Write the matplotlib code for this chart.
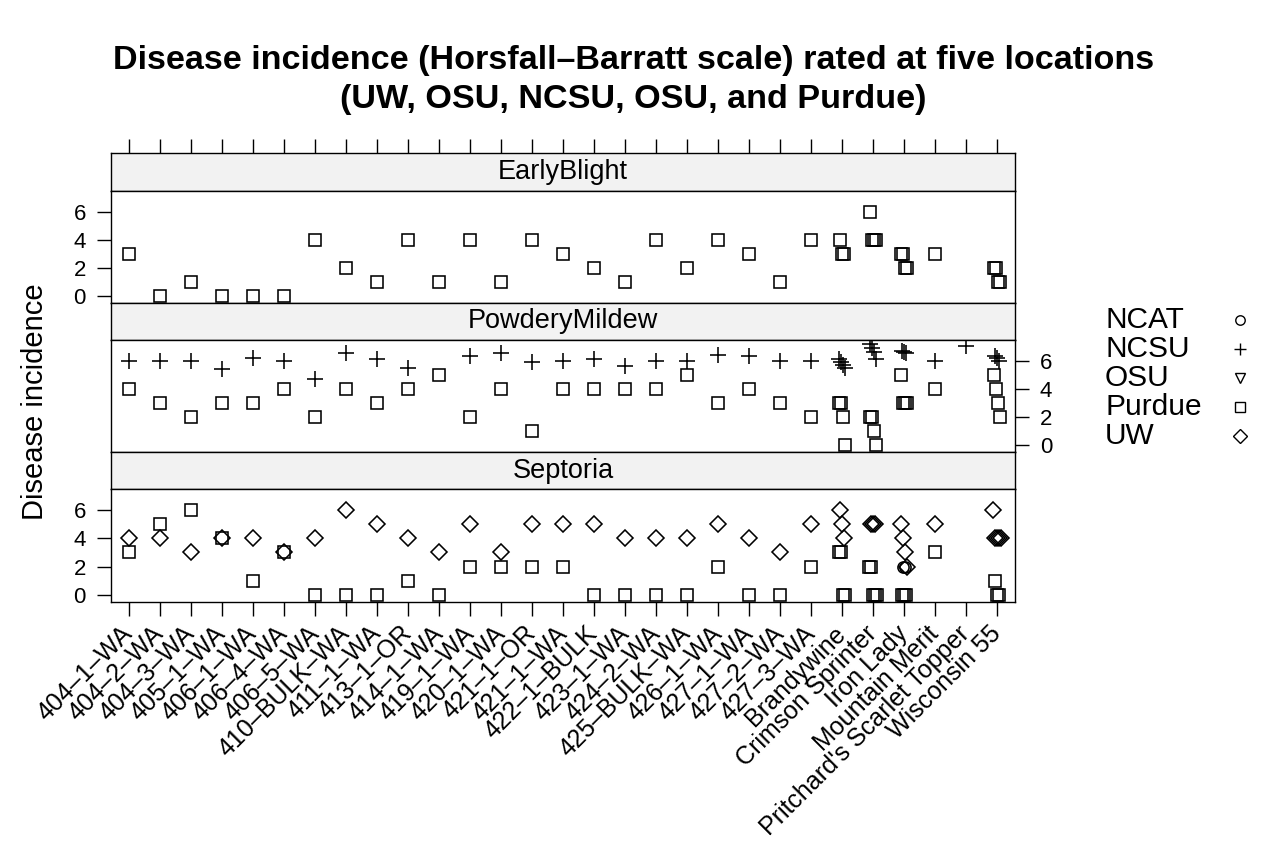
import matplotlib
matplotlib.use('Agg')
import matplotlib.pyplot as plt
from matplotlib.lines import Line2D

plt.rcParams['font.family'] = ['Liberation Sans', 'DejaVu Sans']

# --- data -------------------------------------------------------------
varieties = ["404–1–WA", "404–2–WA", "404–3–WA", "405–1–WA", "406–1–WA",
             "406–4–WA", "406–5–WA", "410–BULK–WA", "411–1–WA", "413–1–OR",
             "414–1–WA", "419–1–WA", "420–1–WA", "421–1–OR", "421–1–WA",
             "422–1–BULK", "423–1–WA", "424–2–WA", "425–BULK–WA", "426–1–WA",
             "427–1–WA", "427–2–WA", "427–3–WA", "Brandywine", "Crimson Sprinter",
             "Iron Lady", "Mountain Merit", "Pritchard's Scarlet Topper",
             "Wisconsin 55"]
locations = ["NCAT", "NCSU", "OSU", "Purdue", "UW"]
diseases = ["EarlyBlight", "PowderyMildew", "Septoria"]

# one rating per experimental line (first 23 varieties), None = not rated
eb_purdue = [3, 0, 1, 0, 0, 0, 4, 2, 1, 4, 1, 4, 1, 4, 3, 2, 1, 4, 2, 4, 3, 1, 4]
eb_purdue_named = {"Brandywine": [4, 3, 3], "Crimson Sprinter": [6, 4, 4, 4],
                   "Iron Lady": [3, 3, 2, 2], "Mountain Merit": [3],
                   "Wisconsin 55": [2, 2, 1, 1]}

pm_ncsu = [6, 6, 6, 5.4, 6.2, 6, 4.7, 6.5, 6.1, 5.5, None, 6.3, 6.5, 5.9, 6,
           6.1, 5.6, 6, 6, 6.4, 6.3, 6, 6]
pm_ncsu_named = {"Brandywine": [6.1, 5.9, 5.7, 5.5],
                 "Crimson Sprinter": [7.2, 6.9, 6.6, 6.1],
                 "Iron Lady": [6.7, 6.6, 6.5], "Mountain Merit": [6],
                 "Pritchard's Scarlet Topper": [7],
                 "Wisconsin 55": [6.3, 6.2, 6.0]}
pm_purdue = [4, 3, 2, 3, 3, 4, 2, 4, 3, 4, 5, 2, 4, 1, 4, 4, 4, 4, 5, 3, 4, 3, 2]
pm_purdue_named = {"Brandywine": [3, 3, 2, 0], "Crimson Sprinter": [2, 2, 1, 0],
                   "Iron Lady": [5, 3, 3, 3], "Mountain Merit": [4],
                   "Wisconsin 55": [5, 4, 3, 2]}

sep_uw = [4, 4, 3, 4, 4, 3, 4, 6, 5, 4, 3, 5, 3, 5, 5, 5, 4, 4, 4, 5, 4, 3, 5]
sep_uw_named = {"Brandywine": [6, 5, 4], "Crimson Sprinter": [5, 5, 5],
                "Iron Lady": [5, 4, 3, 2], "Mountain Merit": [5],
                "Wisconsin 55": [6, 4, 4, 4, 4]}
sep_purdue = [3, 5, 6, 4, 1, 3, 0, 0, 0, 1, 0, 2, 2, 2, 2, 0, 0, 0, 0, 2, 0, 0, 2]
sep_purdue_named = {"Brandywine": [3, 3, 0, 0], "Crimson Sprinter": [2, 2, 0, 0, 0],
                    "Iron Lady": [0, 0, 0], "Mountain Merit": [3],
                    "Wisconsin 55": [1, 0, 0]}
sep_ncat_named = {"Iron Lady": [2, 2]}

panel_data = {
    "EarlyBlight": [("Purdue", eb_purdue, eb_purdue_named)],
    "PowderyMildew": [("Purdue", pm_purdue, pm_purdue_named),
                      ("NCSU", pm_ncsu, pm_ncsu_named)],
    "Septoria": [("Purdue", sep_purdue, sep_purdue_named),
                 ("UW", sep_uw, sep_uw_named),
                 ("NCAT", [], sep_ncat_named)],
}

markers = {"NCAT": ('o', 8), "NCSU": ('+', 11), "OSU": ('v', 8),
           "Purdue": ('s', 8.2), "UW": ('D', 7.8)}


def series(single, named):
    xs, ys = [], []
    for i, v in enumerate(single):
        if v is not None:
            xs.append(i + 1)
            ys.append(v)
    for name, vals in named.items():
        pos = varieties.index(name) + 1
        n = len(vals)
        for k, v in enumerate(vals):
            xs.append(pos + (k - (n - 1) / 2) * 0.06)  # small spread like jitter
            ys.append(v)
    return xs, ys


# --- layout -----------------------------------------------------------
W, H = 1267, 844
fig = plt.figure(figsize=(W / 100, H / 100), dpi=100)
x0, x1 = 111, 1015
layout = [(153, 191, 303), (303, 340, 452), (452, 489, 602)]
strip_col = '#f2f2f2'
lw = 1.0

for p, disease in enumerate(diseases):
    s_top, s_bot, p_bot = layout[p]
    sax = fig.add_axes([x0 / W, 1 - s_bot / H, (x1 - x0) / W, (s_bot - s_top) / H])
    sax.set_facecolor(strip_col)
    sax.set_xlim(0.42, 29.58)
    sax.set_yticks([])
    sax.text(0.5, 0.5, disease, transform=sax.transAxes, ha='center',
             va='center', fontsize=19.5)
    for sp in sax.spines.values():
        sp.set_linewidth(lw)
    if p == 0:
        sax.xaxis.tick_top()
        sax.set_xticks(range(1, len(varieties) + 1))
        sax.tick_params(axis='x', length=10, width=lw, labeltop=False)
    else:
        sax.set_xticks([])

    ax = fig.add_axes([x0 / W, 1 - p_bot / H, (x1 - x0) / W, (p_bot - s_bot) / H])
    ax.set_xlim(0.42, 29.58)
    ax.set_ylim(-0.47, 7.45)
    for sp in ax.spines.values():
        sp.set_linewidth(lw)
    for loc, single, named in panel_data[disease]:
        xs, ys = series(single, named)
        m, ms = markers[loc]
        ax.plot(xs, ys, linestyle='none', marker=m, markersize=ms,
                markerfacecolor='none', markeredgecolor='black',
                markeredgewidth=1.15, color='black')
    ax.set_yticks([0, 2, 4, 6])
    if p == 1:
        ax.yaxis.tick_right()
    ax.tick_params(axis='y', length=10, width=lw, labelsize=16, pad=8)
    if p == 2:
        ax.set_xticks(range(1, len(varieties) + 1))
        ax.set_xticklabels(varieties, rotation=45, ha='right', va='center',
                           rotation_mode='anchor', fontsize=18)
        ax.tick_params(axis='x', length=10, width=lw, pad=10)
    else:
        ax.set_xticks([])

fig.text(35 / W, 1 - 402 / H, "Disease incidence", rotation=90, ha='center',
         va='center', fontsize=21)

fig.text(0.5, 1 - 80 / H,
         "Disease incidence (Horsfall–Barratt scale) rated at five locations\n"
         "(UW, OSU, NCSU, OSU, and Purdue)",
         ha='center', va='center', fontsize=24.6, fontweight='bold',
         linespacing=1.3)

# key on the right
for i, loc in enumerate(locations):
    yy = 1 - (320 + 29 * i) / H
    fig.text(1105 / W, yy, loc, ha='left', va='center', fontsize=21.5)
    m, ms = markers[loc]
    fig.add_artist(Line2D([1240 / W], [yy], transform=fig.transFigure,
                          linestyle='none', marker=m, markersize=ms * 0.85,
                          markerfacecolor='none', markeredgecolor='black',
                          markeredgewidth=1.0))

fig.savefig('out.png', dpi=100)
